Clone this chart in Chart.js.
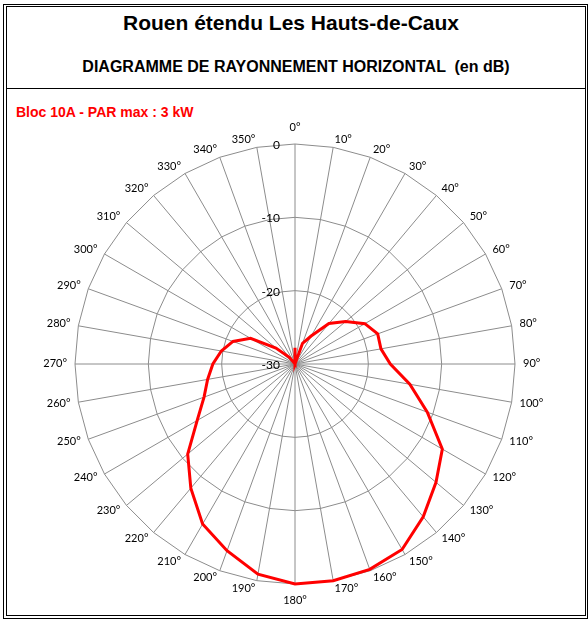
<!DOCTYPE html>
<html>
<head>
<meta charset="utf-8">
<script src="https://cdn.jsdelivr.net/npm/chart.js@4.4.1/dist/chart.umd.min.js"></script>
<style>
  html, body { margin: 0; padding: 0; background: #fff; }
  #page { position: relative; width: 588px; height: 621px; overflow: hidden; font-family: "Liberation Sans", Arial, sans-serif; }
  .frame { position: absolute; border: 1px solid #000; box-sizing: border-box; }
  #outer { left: 3px; top: 4px; width: 585px; height: 615px; }
  #inner { left: 6px; top: 6px; width: 580px; height: 610px; }
  #sep { position: absolute; left: 6px; top: 88px; width: 580px; height: 1px; background: #000; }
  #title { position: absolute; left: -3px; width: 588px; top: 11px; text-align: center; font-weight: bold; font-size: 21px; }
  #subtitle { position: absolute; left: 2px; width: 588px; top: 58px; text-align: center; font-weight: bold; font-size: 16px; white-space: pre; }
  #serie { position: absolute; left: 16px; top: 104px; color: #ff0000; font-weight: bold; font-size: 14px; }
  #box { position: absolute; left: 0; top: 120px; width: 590px; height: 490px; }
</style>
</head>
<body>
<div id="page">
  <div class="frame" id="outer"></div>
  <div class="frame" id="inner"></div>
  <div id="sep"></div>
  <div id="title">Rouen étendu Les Hauts-de-Caux</div>
  <div id="subtitle">DIAGRAMME DE RAYONNEMENT HORIZONTAL  (en dB)</div>
  <div id="serie">Bloc 10A - PAR max : 3 kW</div>
  <div id="box"><canvas id="radar"></canvas></div>
</div>
<script>
// azimuts tous les 10 degres
let angles = ["0°", "10°", "20°", "30°", "40°", "50°", "60°", "70°", "80°", "90°",
  "100°", "110°", "120°", "130°", "140°", "150°", "160°", "170°", "180°", "190°",
  "200°", "210°", "220°", "230°", "240°", "250°", "260°", "270°", "280°", "290°",
  "300°", "310°", "320°", "330°", "340°", "350°"];

let attenuation = [-27.8, -30, -27.0, -25.6, -22.8, -21.0, -19.0, -18.0, -18.1, -17.0,
  -14.1, -10.8, -6.8, -4.9, -2.8, -0.8, -0.2, 0, 0, -0.9,
  -2.9, -4.8, -7.9, -10.9, -14.6, -16.8, -17.9, -18.8, -19.8, -21.0,
  -23.0, -26.6, -28.8, -30, -30, -30];

let tickValues = [0, -10, -20, -30];
let serieName = "Bloc 10A - PAR max : 3 kW";

/* graduations a gauche de l'axe 0° et libelles des angles places comme dans Excel
(a gauche / a droite du rayon, centres verticalement) */
let excelLabels = {
  id: 'excelLabels',
  beforeDatasetsDraw(chart) {
    let scale = chart.scales.r;
    let ctx = chart.ctx;
    ctx.save();
    ctx.fillStyle = '#000';

    ctx.font = '12px Lato';
    ctx.textAlign = 'right';
    ctx.textBaseline = 'middle';
    for (let i = 0; i < tickValues.length; i++) {
      let d = scale.getDistanceFromCenterForValue(tickValues[i]);
      ctx.fillText(String(tickValues[i]), scale.xCenter - 15, scale.yCenter - d + 1);
    }

    ctx.font = '11px Lato';
    for (let i = 0; i < angles.length; i++) {
      let p = scale.getPointPosition(i, scale.drawingArea + 8);
      let deg = i * 10;
      let y = p.y - 0.5;
      if (deg == 0) {
        ctx.textAlign = 'center';
        y = p.y - 9;
      } else if (deg == 180) {
        ctx.textAlign = 'center';
        y = p.y + 8;
      } else if (deg < 180) {
        ctx.textAlign = 'left';
      } else {
        ctx.textAlign = 'right';
      }
      ctx.fillText(angles[i], p.x, y);
    }
    ctx.restore();
  }
};

new Chart(document.getElementById('radar'), {
  type: 'radar',
  data: {
    labels: angles,
    datasets: [{
      label: serieName,
      data: attenuation,
      borderColor: '#ff0000',
      borderWidth: 3,
      fill: false,
      pointRadius: 0,
      tension: 0
    }]
  },
  options: {
    responsive: true,
    maintainAspectRatio: false,
    animation: false,
    events: [],
    layout: { padding: { left: 75, right: 75, top: 24, bottom: 26 } },
    plugins: {
      legend: { display: false },
      title: { display: false },
      tooltip: { enabled: false }
    },
    scales: {
      r: {
        min: -30,
        max: 0,
        startAngle: 0,
        ticks: { display: false, stepSize: 10 },
        grid: { color: '#8c8c8c', lineWidth: 1 },
        angleLines: { color: '#8c8c8c', lineWidth: 1 },
        pointLabels: { display: false }
      }
    }
  },
  plugins: [excelLabels]
});
</script>
</body>
</html>
